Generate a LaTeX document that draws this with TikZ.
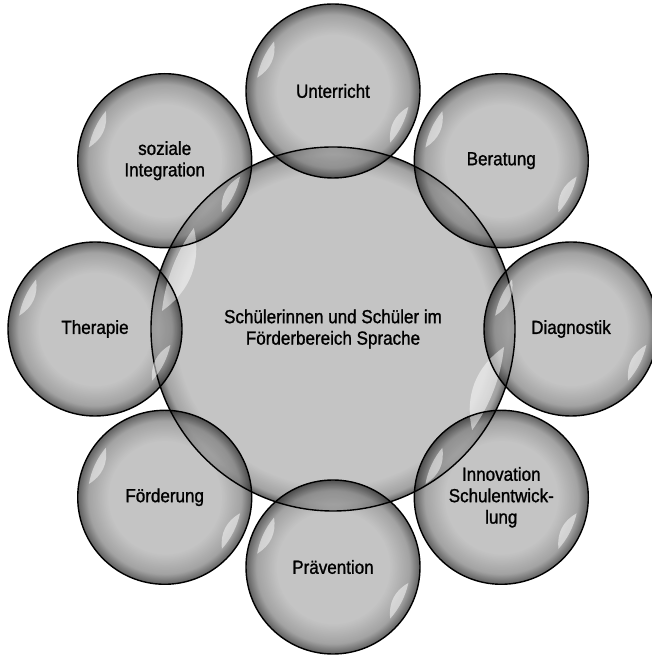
\documentclass[tikz,border=0pt]{standalone}
\usepackage{fontspec}
\setmainfont{Liberation Sans}[FakeStretch=0.9, FakeBold=1.2]
\usepackage{tikz}
\usetikzlibrary{calc}
\definecolor{bubblein}{RGB}{176, 176, 176}
\definecolor{bubblemid}{RGB}{130, 130, 130}
\definecolor{bubbleout}{RGB}{40, 40, 40}
\pgfdeclareradialshading{bubble}{\pgfpoint{0bp}{0bp}}{color(0bp)=(bubblein); color(16bp)=(bubblein); color(22bp)=(bubblemid); color(25bp)=(bubbleout); color(50bp)=(bubbleout)}
\pgfdeclareradialshading{bigbubble}{\pgfpoint{0bp}{0bp}}{color(0bp)=(bubblein); color(21.5bp)=(bubblein); color(24bp)=(bubblemid); color(25bp)=(bubbleout); color(50bp)=(bubbleout)}
\newcommand{\glanz}[4]{% node, radius, left arc, right arc
  \fill[glint] ($(#1)+(#3:#2)$) arc[start angle=#3, end angle=#3+30, radius=#2] to[bend right=34] cycle;
  \fill[glint] ($(#1)+(#4:#2)$) arc[start angle=#4, end angle=#4-30, radius=#2] to[bend left=34] cycle;}

\begin{document}
\begin{tikzpicture}[x=1bp, y=1bp,
  bubble/.style={circle, shade, shading=bubble, fill opacity=0.74, text opacity=1,
    minimum size=174bp, inner sep=0pt, align=center,
    font=\fontsize{19}{21.5}\selectfont},
  rim/.style={draw=black, line width=1.4bp},
  glint/.style={white, fill opacity=0.5}]

  \useasboundingbox (0, 0) rectangle (652, 657);

  \node[bubble, shading=bigbubble, minimum size=364bp] (mitte) at (333, 328)
    {Schülerinnen und Schüler im\\Förderbereich Sprache};

  \foreach \ang/\name/\txt in {90/unterricht/Unterricht, 45/beratung/Beratung,
      0/diagnostik/Diagnostik, -45/innovation/{Innovation\\Schulentwick-\\lung},
      -90/praevention/Prävention, -135/foerderung/Förderung,
      180/therapie/Therapie, 135/integration/{soziale\\Integration}}
    \node[bubble] (\name) at ($(mitte)+(\ang:238)$) {\txt};

  % outlines and highlights on top
  \draw[rim] (mitte) circle[radius=182bp];
  \glanz{mitte}{172bp}{144}{-6}
  \foreach \name in {unterricht, beratung, diagnostik, innovation,
      praevention, foerderung, therapie, integration} {
    \draw[rim] (\name) circle[radius=87bp];
    \glanz{\name}{77bp}{140}{-12}
  }

\end{tikzpicture}
\end{document}
